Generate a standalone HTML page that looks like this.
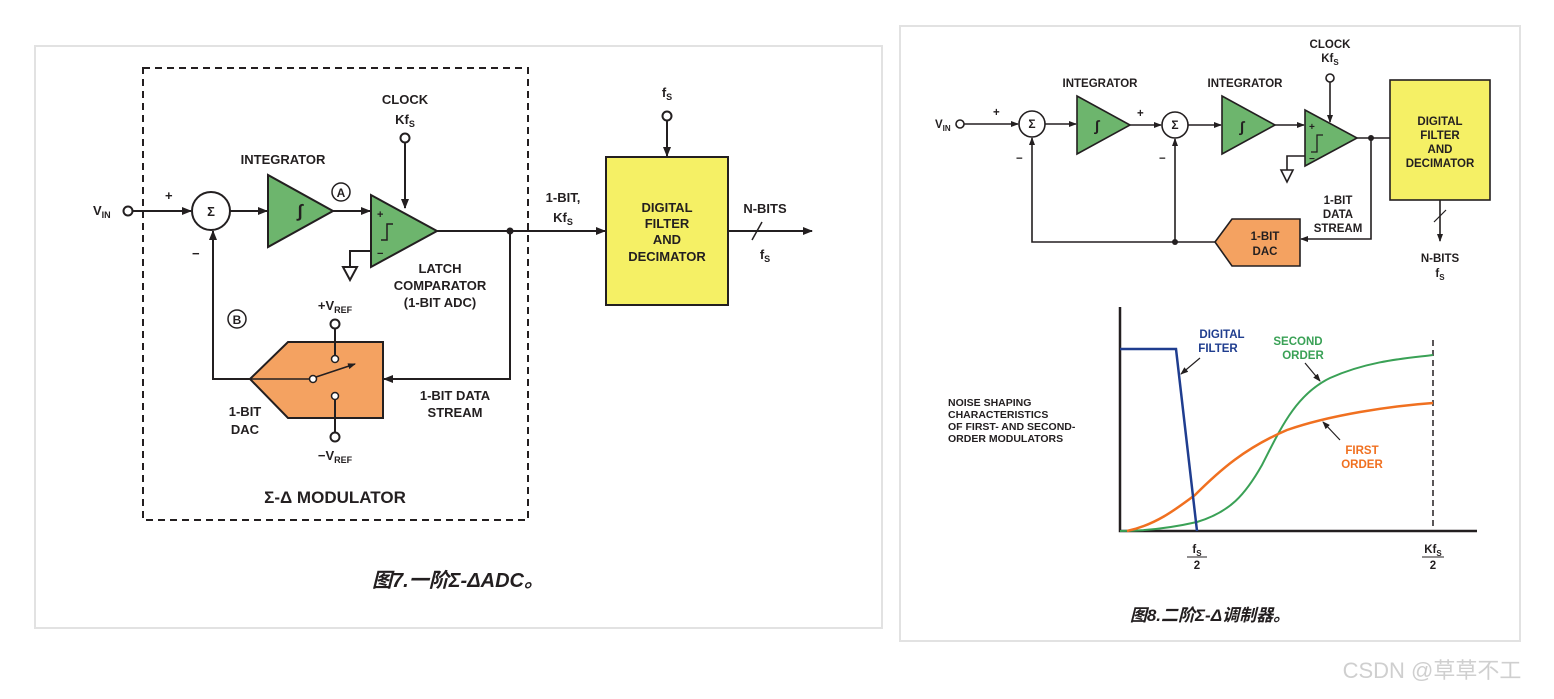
<!DOCTYPE html>
<html><head><meta charset="utf-8"><style>
html,body{margin:0;padding:0;background:#fff;width:1554px;height:699px;overflow:hidden}
svg{display:block}
text{font-family:"Liberation Sans",Arial,sans-serif;font-weight:bold;fill:#231f20}
.s{font-size:13px}
.r{font-size:11.5px}
</style></head><body>
<svg width="1554" height="699" viewBox="0 0 1554 699" xmlns="http://www.w3.org/2000/svg">
<defs>
<marker id="a" markerWidth="10" markerHeight="8" refX="9" refY="4" orient="auto" markerUnits="userSpaceOnUse"><path d="M0,0 L10,4 L0,8 z" fill="#231f20"/></marker>
<marker id="b" markerWidth="8" markerHeight="6" refX="7" refY="3" orient="auto" markerUnits="userSpaceOnUse"><path d="M0,0 L8,3 L0,6 z" fill="#231f20"/></marker>
</defs>
<rect x="35" y="46" width="847" height="582" fill="#fff" stroke="#e2e2e2" stroke-width="2"/>
<rect x="900" y="26" width="620" height="615" fill="#fff" stroke="#e2e2e2" stroke-width="2"/>

<g stroke="#231f20" stroke-width="2" fill="none">
<rect x="143" y="68" width="385" height="452" stroke-dasharray="7,5"/>
<circle cx="128" cy="211" r="4.5" fill="#fff"/>
<line x1="133" y1="211" x2="191" y2="211" marker-end="url(#a)"/>
<circle cx="211" cy="211" r="19" fill="#fff"/>
<line x1="230" y1="211" x2="267" y2="211" marker-end="url(#a)"/>
<polygon points="268,175 268,247 333,211" fill="#6db56d"/>
<line x1="333" y1="211" x2="370" y2="211" marker-end="url(#a)"/>
<polygon points="371,195 371,267 437,231" fill="#6db56d"/>
<path d="M381,240 h6 v-16 h6" stroke-width="1.5"/>
<circle cx="405" cy="138" r="4.5" fill="#fff"/>
<line x1="405" y1="143" x2="405" y2="208" marker-end="url(#a)"/>
<path d="M371,251 H350 V266"/>
<polygon points="343,267 357,267 350,280" fill="#fff"/>
<line x1="437" y1="231" x2="605" y2="231" marker-end="url(#a)"/>
<path d="M510,231 V379 H384" marker-end="url(#a)"/>
<polygon points="250,379 288,342 383,342 383,418 288,418" fill="#f4a261" stroke-width="2"/>
<path d="M250,379 H213 V231" marker-end="url(#a)"/>
<line x1="250" y1="379" x2="309" y2="379" stroke-width="1.5"/>
<circle cx="313" cy="379" r="3.5" fill="#fff" stroke-width="1.5"/>
<line x1="316" y1="377" x2="355" y2="364" stroke-width="1.5" marker-end="url(#b)"/>
<circle cx="335" cy="324" r="4.5" fill="#fff"/>
<line x1="335" y1="329" x2="335" y2="355"/>
<circle cx="335" cy="359" r="3.5" fill="#fff" stroke-width="1.5"/>
<circle cx="335" cy="396" r="3.5" fill="#fff" stroke-width="1.5"/>
<line x1="335" y1="400" x2="335" y2="432"/>
<circle cx="335" cy="437" r="4.5" fill="#fff"/>
<circle cx="341" cy="192" r="9" stroke-width="1.5"/>
<circle cx="237" cy="319" r="9" stroke-width="1.5"/>
<rect x="606" y="157" width="122" height="148" fill="#f5f065"/>
<circle cx="667" cy="116" r="4.5" fill="#fff"/>
<line x1="667" y1="121" x2="667" y2="156" marker-end="url(#a)"/>
<line x1="728" y1="231" x2="812" y2="231" marker-end="url(#a)"/>
<line x1="752" y1="240" x2="762" y2="222" stroke-width="1.5"/>
</g>
<circle cx="510" cy="231" r="3.5" fill="#231f20"/>
<text x="93" y="215" class="s">V<tspan font-size="9" dy="3">IN</tspan></text>
<text x="165" y="200" class="s">+</text>
<text x="192" y="258" class="s">−</text>
<text x="211" y="216" class="s" text-anchor="middle">Σ</text>
<text x="300" y="217" font-size="18" text-anchor="middle" font-style="italic">∫</text>
<text x="377" y="218" font-size="11">+</text>
<text x="377" y="257" font-size="11">−</text>
<text x="283" y="164" class="s" text-anchor="middle">INTEGRATOR</text>
<text x="341" y="197" font-size="12" text-anchor="middle">A</text>
<text x="237" y="324" font-size="12" text-anchor="middle">B</text>
<text x="405" y="104" class="s" text-anchor="middle">CLOCK</text>
<text x="405" y="124" class="s" text-anchor="middle">Kf<tspan font-size="9" dy="3">S</tspan></text>
<text x="440" y="273" class="s" text-anchor="middle">LATCH</text>
<text x="440" y="290" class="s" text-anchor="middle">COMPARATOR</text>
<text x="440" y="307" class="s" text-anchor="middle">(1-BIT ADC)</text>
<text x="335" y="310" class="s" text-anchor="middle">+V<tspan font-size="9" dy="3">REF</tspan></text>
<text x="335" y="460" class="s" text-anchor="middle">−V<tspan font-size="9" dy="3">REF</tspan></text>
<text x="245" y="416" class="s" text-anchor="middle">1-BIT</text>
<text x="245" y="434" class="s" text-anchor="middle">DAC</text>
<text x="455" y="400" class="s" text-anchor="middle">1-BIT DATA</text>
<text x="455" y="417" class="s" text-anchor="middle">STREAM</text>
<text x="335" y="503" font-size="17" text-anchor="middle">Σ-Δ MODULATOR</text>
<text x="563" y="202" class="s" text-anchor="middle">1-BIT,</text>
<text x="563" y="222" class="s" text-anchor="middle">Kf<tspan font-size="9" dy="3">S</tspan></text>
<text x="667" y="97" class="s" text-anchor="middle">f<tspan font-size="9" dy="3">S</tspan></text>
<text x="667" y="212" class="s" text-anchor="middle">DIGITAL</text>
<text x="667" y="228" class="s" text-anchor="middle">FILTER</text>
<text x="667" y="244" class="s" text-anchor="middle">AND</text>
<text x="667" y="261" class="s" text-anchor="middle">DECIMATOR</text>
<text x="765" y="213" class="s" text-anchor="middle">N-BITS</text>
<text x="765" y="259" class="s" text-anchor="middle">f<tspan font-size="9" dy="3">S</tspan></text>
<text x="458" y="587" font-size="20" text-anchor="middle" font-style="italic" style="font-family:'Liberation Sans','Noto Sans CJK SC',sans-serif">图7.一阶Σ-ΔADC。</text>

<g stroke="#231f20" stroke-width="1.6" fill="none">
<circle cx="960" cy="124" r="4" fill="#fff"/>
<line x1="964" y1="124" x2="1018" y2="124" marker-end="url(#b)"/>
<circle cx="1032" cy="124" r="13" fill="#fff"/>
<line x1="1045" y1="124" x2="1076" y2="124" marker-end="url(#b)"/>
<polygon points="1077,96 1077,154 1130,125" fill="#6db56d"/>
<line x1="1130" y1="125" x2="1161" y2="125" marker-end="url(#b)"/>
<circle cx="1175" cy="125" r="13" fill="#fff"/>
<line x1="1188" y1="125" x2="1221" y2="125" marker-end="url(#b)"/>
<polygon points="1222,96 1222,154 1275,125" fill="#6db56d"/>
<line x1="1275" y1="125" x2="1304" y2="125" marker-end="url(#b)"/>
<polygon points="1305,110 1305,166 1357,138" fill="#6db56d"/>
<path d="M1311,152 h6 v-17 h6" stroke-width="1.3"/>
<circle cx="1330" cy="78" r="4" fill="#fff"/>
<line x1="1330" y1="82" x2="1330" y2="122" marker-end="url(#b)"/>
<path d="M1305,156 H1287 V170"/>
<polygon points="1281,170 1293,170 1287,182" fill="#fff"/>
<line x1="1357" y1="138" x2="1390" y2="138"/>
<path d="M1371,138 V239 H1301" marker-end="url(#b)"/>
<polygon points="1215,242 1232,219 1300,219 1300,266 1232,266" fill="#f4a261"/>
<path d="M1215,242 H1032 V138" marker-end="url(#b)"/>
<line x1="1175" y1="242" x2="1175" y2="139" marker-end="url(#b)"/>
<rect x="1390" y="80" width="100" height="120" fill="#f5f065"/>
<line x1="1440" y1="200" x2="1440" y2="241" marker-end="url(#b)"/>
<line x1="1434" y1="222" x2="1446" y2="210" stroke-width="1.2"/>
<path d="M1120,307 V531 H1477" stroke-width="2.5"/>
<line x1="1433" y1="340" x2="1433" y2="531" stroke-dasharray="6,4" stroke-width="1.5"/>
<path d="M1120,531 C1150,531 1175,527 1197,522 C1230,512 1245,495 1262,465 C1280,430 1295,395 1330,378 C1370,360 1410,358 1433,355" stroke="#3aa156" stroke-width="2"/>
<path d="M1127,531 C1155,525 1175,510 1195,495 C1220,470 1245,448 1287,430 C1330,415 1390,406 1433,403" stroke="#f07020" stroke-width="2.5"/>
<path d="M1120,349 H1176 L1197,531" stroke="#1f3d8f" stroke-width="2.5"/>
<line x1="1200" y1="358" x2="1181" y2="374" stroke-width="1.2" marker-end="url(#b)"/>
<line x1="1305" y1="363" x2="1320" y2="381" stroke-width="1.2" marker-end="url(#b)"/>
<line x1="1340" y1="440" x2="1323" y2="422" stroke-width="1.2" marker-end="url(#b)"/>
<line x1="1187" y1="557" x2="1207" y2="557" stroke-width="1"/>
<line x1="1422" y1="557" x2="1444" y2="557" stroke-width="1"/>
</g>
<circle cx="1371" cy="138" r="3" fill="#231f20"/>
<circle cx="1175" cy="242" r="3" fill="#231f20"/>
<text x="935" y="128" class="r">V<tspan font-size="8" dy="3">IN</tspan></text>
<text x="993" y="116" class="r">+</text>
<text x="1137" y="117" class="r">+</text>
<text x="1016" y="162" class="r">−</text>
<text x="1159" y="162" class="r">−</text>
<text x="1032" y="128" font-size="12" text-anchor="middle">Σ</text>
<text x="1175" y="129" font-size="12" text-anchor="middle">Σ</text>
<text x="1097" y="131" font-size="15" text-anchor="middle" font-style="italic">∫</text>
<text x="1242" y="132" font-size="15" text-anchor="middle" font-style="italic">∫</text>
<text x="1309" y="130" font-size="10">+</text>
<text x="1309" y="162" font-size="10">−</text>
<text x="1100" y="87" class="r" text-anchor="middle">INTEGRATOR</text>
<text x="1245" y="87" class="r" text-anchor="middle">INTEGRATOR</text>
<text x="1330" y="48" class="r" text-anchor="middle">CLOCK</text>
<text x="1330" y="62" class="r" text-anchor="middle">Kf<tspan font-size="8" dy="3">S</tspan></text>
<text x="1440" y="125" class="r" text-anchor="middle">DIGITAL</text>
<text x="1440" y="139" class="r" text-anchor="middle">FILTER</text>
<text x="1440" y="153" class="r" text-anchor="middle">AND</text>
<text x="1440" y="167" class="r" text-anchor="middle">DECIMATOR</text>
<text x="1440" y="262" class="r" text-anchor="middle">N-BITS</text>
<text x="1440" y="277" class="r" text-anchor="middle">f<tspan font-size="8" dy="3">S</tspan></text>
<text x="1338" y="204" class="r" text-anchor="middle">1-BIT</text>
<text x="1338" y="218" class="r" text-anchor="middle">DATA</text>
<text x="1338" y="232" class="r" text-anchor="middle">STREAM</text>
<text x="1265" y="240" class="r" text-anchor="middle">1-BIT</text>
<text x="1265" y="255" class="r" text-anchor="middle">DAC</text>
<text x="948" y="406" font-size="10.5">NOISE SHAPING</text>
<text x="948" y="418" font-size="10.5">CHARACTERISTICS</text>
<text x="948" y="430" font-size="10.5">OF FIRST- AND SECOND-</text>
<text x="948" y="442" font-size="10.5">ORDER MODULATORS</text>
<text x="1222" y="338" class="r" text-anchor="middle" style="fill:#1f3d8f">DIGITAL</text>
<text x="1218" y="352" class="r" text-anchor="middle" style="fill:#1f3d8f">FILTER</text>
<text x="1298" y="345" class="r" text-anchor="middle" style="fill:#3aa156">SECOND</text>
<text x="1303" y="359" class="r" text-anchor="middle" style="fill:#3aa156">ORDER</text>
<text x="1362" y="454" class="r" text-anchor="middle" style="fill:#f07020">FIRST</text>
<text x="1362" y="468" class="r" text-anchor="middle" style="fill:#f07020">ORDER</text>
<text x="1197" y="553" class="r" text-anchor="middle">f<tspan font-size="8" dy="3">S</tspan></text>
<text x="1197" y="569" class="r" text-anchor="middle">2</text>
<text x="1433" y="553" class="r" text-anchor="middle">Kf<tspan font-size="8" dy="3">S</tspan></text>
<text x="1433" y="569" class="r" text-anchor="middle">2</text>
<text x="1210" y="621" font-size="17" text-anchor="middle" font-style="italic" style="font-family:'Liberation Sans','Noto Sans CJK SC',sans-serif">图8.二阶Σ-Δ调制器。</text>
<text x="1432" y="678" font-size="22" text-anchor="middle" style="font-weight:normal;fill:#cfcfcf;font-family:'Liberation Sans','Noto Sans CJK SC',sans-serif">CSDN @草草不工</text>
</svg>
</body></html>
